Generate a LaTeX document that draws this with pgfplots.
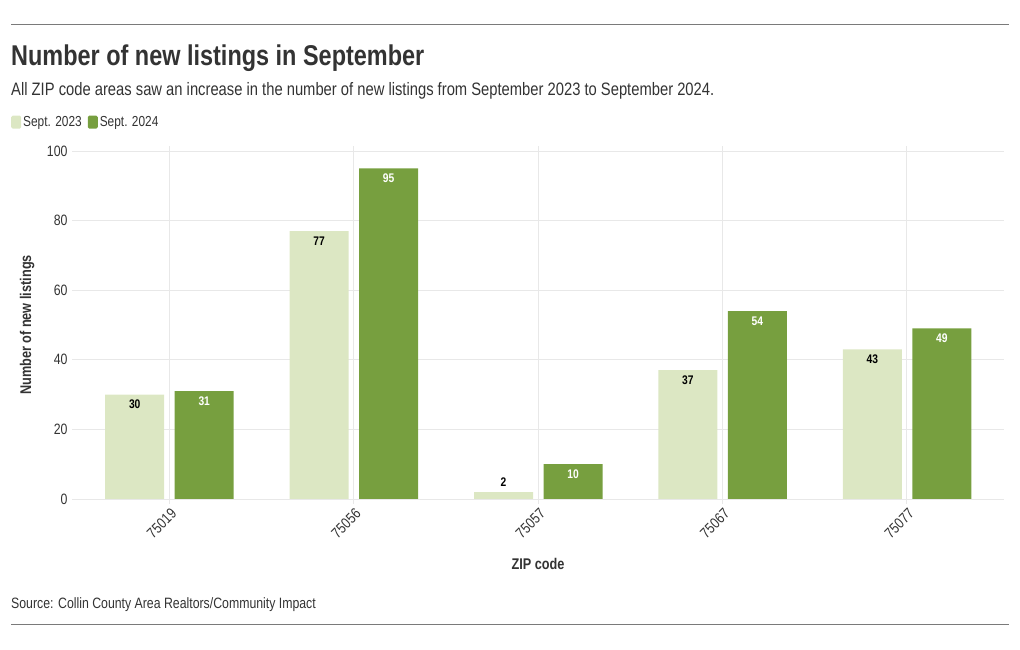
\documentclass[border=0pt]{standalone}
\usepackage{pgfplots}
\usepackage{pgfplotstable}
\pgfplotsset{compat=1.18}
\usepackage{fontspec}
\setmainfont{Liberation Sans}[FakeStretch=0.82]
\definecolor{lightg}{HTML}{DCE7C3}
\definecolor{darkg}{HTML}{779F3F}
\definecolor{txt}{HTML}{333333}
\definecolor{gridc}{HTML}{E8E8E8}
\definecolor{rule}{HTML}{7A7A7A}

\pgfplotstableread{
x y off
0 30 -10
1 77 -10
2 2 10
3 37 -10
4 43 -10
}\lightdata
\pgfplotstableread{
x y off
0 31 -10
1 95 -10
2 10 -10
3 54 -10
4 49 -10
}\darkdata

\begin{document}
\begin{tikzpicture}
\useasboundingbox (0pt,0pt) rectangle (1020pt,650pt);
\draw[rule, line width=1pt] (11pt,625pt) -- (1009pt,625pt);
\draw[rule, line width=1pt] (11pt,25pt) -- (1009pt,25pt);
\node[anchor=base west, font=\bfseries\fontsize{28.6}{30}\selectfont, text=txt, inner sep=0] at (11pt,584pt) {Number of new listings in September};
\node[anchor=base west, font=\fontsize{18}{20}\selectfont, text=txt, inner sep=0] at (11pt,554pt) {All ZIP code areas saw an increase in the number of new listings from September 2023 to September 2024.};
\node[anchor=base west, font=\fontsize{15}{17}\selectfont, text=txt, inner sep=0] at (11pt,41pt) {Source: Collin County Area Realtors/Community Impact};
\begin{axis}[
  at={(77pt,151pt)}, anchor=south west,
  width=922pt, height=348pt, scale only axis,
  xmin=-0.5, xmax=4.5, ymin=0, ymax=100,
  ytick={0,20,...,100},
  xtick={0,1,2,3,4},
  xticklabels={75019,75056,75057,75067,75077},
  axis line style={draw=none},
  tick style={gridc, line width=0.8pt},
  tick align=outside, major tick length=5pt,
  xmajorgrids, ymajorgrids,
  grid style={gridc, line width=0.8pt},
  /pgf/number format/assume math mode=true,
  ticklabel style={font=\fontsize{15}{17}\selectfont, text=txt},
  yticklabel style={xshift=-1pt},
  xticklabel style={xshift=7pt, yshift=-5pt, rotate=45, anchor=east},
  xlabel={ZIP code},
  ylabel={Number of new listings},
  label style={font=\bfseries\fontsize{15.5}{17}\selectfont, text=txt},
  xlabel style={at={(axis description cs:0.5,-0.187)}, anchor=center},
  ylabel style={at={(axis description cs:-0.0542,0.5)}, anchor=center},
  ybar, bar width=59pt,
  nodes near coords,
  visualization depends on={\thisrow{off} \as \off},
  every node near coord/.append style={anchor=center, yshift=\off pt, font=\bfseries\fontsize{12.5}{14}\selectfont},
  legend style={at={(axis description cs:-0.0716,1.083)}, anchor=west, draw=none, fill=none,
    font=\fontsize{14.5}{16}\selectfont, text=txt, inner sep=0pt,
    /tikz/every even column/.append style={column sep=4pt}},
  legend columns=2,
  legend image code/.code={\path[#1, draw=none, rounded corners=1.5pt] (0pt,-6.5pt) rectangle (10pt,6.5pt);},
]
\addplot[fill=lightg, draw=none, bar shift=-34.5pt, every node near coord/.append style={text=black}] table[x=x,y=y] {\lightdata};
\addplot[fill=darkg, draw=none, bar shift=35pt, every node near coord/.append style={text=white}] table[x=x,y=y] {\darkdata};
\legend{Sept. 2023, Sept. 2024}
\end{axis}
\end{tikzpicture}
\end{document}
